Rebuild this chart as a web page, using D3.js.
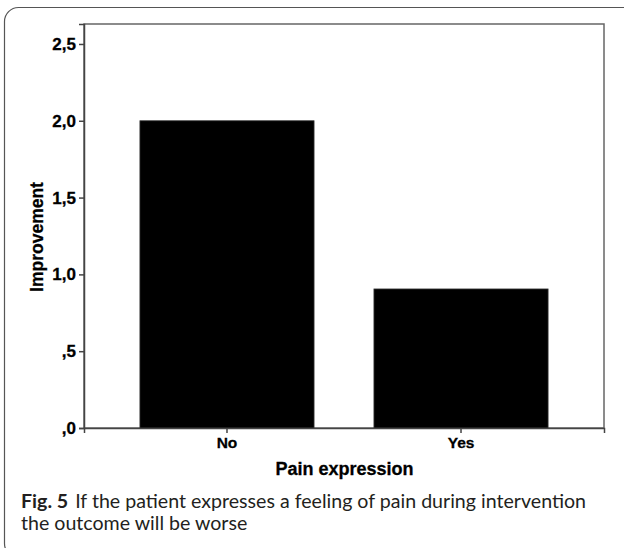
<!DOCTYPE html>
<html>
<head>
<meta charset="utf-8">
<script src="https://cdn.jsdelivr.net/npm/d3@7"></script>
<style>
  html, body { margin: 0; padding: 0; background: #fff; }
  svg { display: block; }
</style>
</head>
<body>
<svg id="chart" width="624" height="548"></svg>
<script>
const categories = ["No", "Yes"];
const values = [2.0, 0.905];
const yTicks = [0, 0.5, 1.0, 1.5, 2.0, 2.5];
const yTickLabels = [",0", ",5", "1,0", "1,5", "2,0", "2,5"];
const xTitle = "Pain expression";
const yTitle = "Improvement";
const captionBold = "Fig. 5";
const captionLine1 = "If the patient expresses a feeling of pain during intervention";
const captionLine2 = "the outcome will be worse";

(function () {
const svg = d3.select("#chart");
const mLeft = 84, mRight = 604, mTop = 24, mBottom = 428;

// outer rounded panel
svg.append("rect")
  .attr("x", 4.5).attr("y", 7.5).attr("width", 650).attr("height", 550)
  .attr("rx", 14).attr("ry", 14)
  .attr("fill", "#fff").attr("stroke", "#555").attr("stroke-width", 1.2);

const x = d3.scaleBand().domain(categories).range([mLeft, mRight])
  .paddingInner(0.256).paddingOuter(0.239);
const y = d3.scaleLinear().domain([0, 2.63]).range([mBottom, mTop]);

// plot frame
svg.append("rect")
  .attr("x", mLeft).attr("y", mTop).attr("width", mRight - mLeft).attr("height", mBottom - mTop)
  .attr("fill", "#fff").attr("stroke", "#666").attr("stroke-width", 1.5);

// bars
svg.append("g").selectAll("rect").data(categories).join("rect")
  .attr("x", d => x(d))
  .attr("width", x.bandwidth())
  .attr("y", (d, i) => y(values[i]))
  .attr("height", (d, i) => y(0) - y(values[i]))
  .attr("fill", "#000")
  .attr("stroke", "#333").attr("stroke-width", 0.8);

const chartFont = "'Liberation Sans', Arial, sans-serif";

// y axis
const yAxis = d3.axisLeft(y).tickValues(yTicks)
  .tickFormat((d, i) => yTickLabels[i]).tickSize(5).tickPadding(3);
const gy = svg.append("g").attr("transform", `translate(${mLeft},0)`).call(yAxis);
gy.select(".domain").attr("stroke", "#444").attr("stroke-width", 1.5);
gy.selectAll(".tick line").attr("stroke", "#444").attr("stroke-width", 1.5);
gy.selectAll(".tick text").attr("font-family", chartFont).attr("font-weight", "bold")
  .attr("font-size", 17).attr("fill", "#000").attr("stroke", "#000").attr("stroke-width", 0.3);

// x axis
const xAxis = d3.axisBottom(x).tickSize(5).tickPadding(4);
const gx = svg.append("g").attr("transform", `translate(0,${mBottom})`).call(xAxis);
gx.select(".domain").attr("stroke", "#444").attr("stroke-width", 1.5);
gx.selectAll(".tick line").attr("stroke", "#444").attr("stroke-width", 1.5);
gx.selectAll(".tick text").attr("font-family", chartFont).attr("font-weight", "bold")
  .attr("font-size", 15.5).attr("fill", "#000").attr("stroke", "#000").attr("stroke-width", 0.3);

// axis titles
svg.append("text").attr("x", (mLeft + mRight) / 2 + 0.5).attr("y", 475)
  .attr("text-anchor", "middle").attr("font-family", chartFont).attr("font-weight", "bold")
  .attr("font-size", 18).attr("stroke", "#000").attr("stroke-width", 0.3).text(xTitle);
svg.append("text").attr("transform", "translate(43,237) rotate(-90)")
  .attr("text-anchor", "middle").attr("font-family", chartFont).attr("font-weight", "bold")
  .attr("font-size", 17.5).attr("stroke", "#000").attr("stroke-width", 0.3).text(yTitle);

// caption
const capFont = "Lato, 'Open Sans', sans-serif";
const cap1 = svg.append("text").attr("font-family", capFont).attr("fill", "#231f20")
  .attr("x", 21).attr("y", 507.5);
cap1.append("tspan").attr("font-weight", "bold").text(captionBold);
cap1.append("tspan").attr("dx", 7).text(captionLine1);
const cap2 = svg.append("text").attr("font-family", capFont).attr("fill", "#231f20")
  .attr("x", 21).attr("y", 530).text(captionLine2);
cap1.attr("font-size", 18);
const w = cap1.node().getBBox().width;
const fs = Math.min(20.5, 18 * 566 / w);
cap1.attr("font-size", fs);
cap2.attr("font-size", fs);
})();
</script>
</body>
</html>
